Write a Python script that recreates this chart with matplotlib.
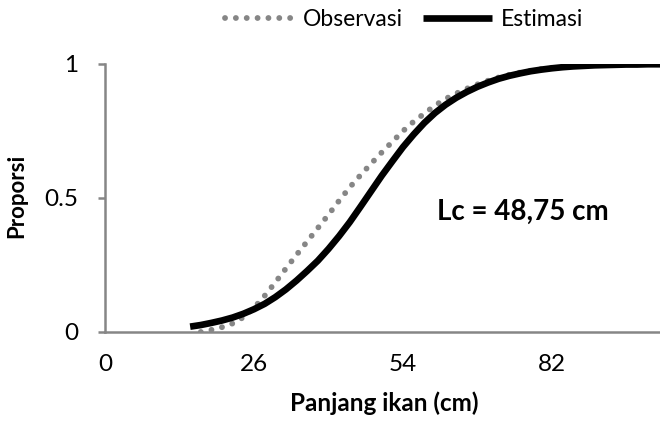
import numpy as np
import matplotlib
matplotlib.use('Agg')
import matplotlib.pyplot as plt

plt.rcParams['font.family'] = ['Lato', 'DejaVu Sans']

# panjang ikan (cm), kelas 2 cm
obs_x = [16, 18, 20, 22, 24, 26, 28, 30, 32, 34, 36, 38, 40, 42, 44, 46, 48, 50,
         52, 54, 56, 58, 60, 62, 64, 66, 68, 70, 72, 74, 76, 78, 80, 82, 84, 86,
         88, 90, 92, 94, 96, 98, 100, 102, 104]
obs_y = [0.0, 0.008, 0.018, 0.032, 0.055, 0.09, 0.135, 0.185, 0.237, 0.288,
         0.338, 0.388, 0.438, 0.49, 0.54, 0.585, 0.628, 0.67, 0.71, 0.75, 0.785,
         0.815, 0.845, 0.87, 0.89, 0.908, 0.924, 0.938, 0.95, 0.96, 0.968,
         0.975, 0.981, 0.986, 0.99, 0.993, 0.995, 0.997, 0.998, 0.999, 0.999,
         1.0, 1.0, 1.0, 1.0]

est_x = [14, 16, 18, 20, 22, 24, 26, 28, 30, 32, 34, 36, 38, 40, 42, 44, 46, 48,
         50, 52, 54, 56, 58, 60, 62, 64, 66, 68, 70, 72, 74, 76, 78, 80, 82, 84,
         86, 88, 90, 92, 94, 96, 98, 100, 102, 104]
est_y = [0.02, 0.026, 0.034, 0.043, 0.054, 0.068, 0.085, 0.105, 0.13, 0.159,
         0.192, 0.228, 0.266, 0.31, 0.358, 0.41, 0.467, 0.525, 0.583, 0.637,
         0.69, 0.737, 0.78, 0.817, 0.848, 0.874, 0.896, 0.915, 0.931, 0.945,
         0.956, 0.965, 0.973, 0.979, 0.984, 0.988, 0.991, 0.993, 0.995, 0.996,
         0.997, 0.998, 0.998, 0.999, 0.999, 0.999]

xtick_pos = [-2, 26, 54, 82]
xtick_lab = ['0', '26', '54', '82']
ytick_pos = [0, 0.5, 1]
ytick_lab = ['0', '0.5', '1']

gray = '#868686'

fig = plt.figure(figsize=(6.6, 4.21), dpi=100)
ax = fig.add_axes([105/660, 1-332/421, 555/660, 268/421])

# titik-titik bulat untuk data observasi
ax.plot(obs_x, obs_y, color=gray, lw=4.2, linestyle=(0, (0.01, 1.85)),
        dash_capstyle='round', label='Observasi')
ax.plot(est_x, est_y, color='black', lw=4.8, solid_capstyle='butt',
        label='Estimasi')

ax.set_xlim(-2, 102.3)
ax.set_ylim(0, 1)
ax.set_xticks(xtick_pos)
ax.set_xticklabels(xtick_lab)
ax.set_yticks(ytick_pos)
ax.set_yticklabels(ytick_lab)

for s in ['top', 'right']:
    ax.spines[s].set_visible(False)
for s in ['left', 'bottom']:
    ax.spines[s].set_color(gray)
    ax.spines[s].set_linewidth(1.8)
ax.tick_params(axis='x', length=0, pad=16, labelsize=17.5)
ax.tick_params(axis='y', length=5, width=1.8, color=gray, pad=14, labelsize=17.5)

ax.text(76.5, 0.45, 'Lc = 48,75 cm', fontsize=20, fontweight='bold',
        ha='center', va='center')

fig.text(384/660, 1-403/421, 'Panjang ikan (cm)', fontsize=17.5, fontweight='bold',
         ha='center', va='center')
fig.text(17/660, 1-196/421, 'Proporsi', fontsize=16, fontweight='bold',
         rotation=90, ha='center', va='center')

fig.legend(loc='center', bbox_to_anchor=(404/660, 1-20/421), ncol=2,
           frameon=False, fontsize=16.5, handlelength=3.0, columnspacing=0.9,
           handletextpad=0.4)

fig.savefig('out.png', dpi=100)
